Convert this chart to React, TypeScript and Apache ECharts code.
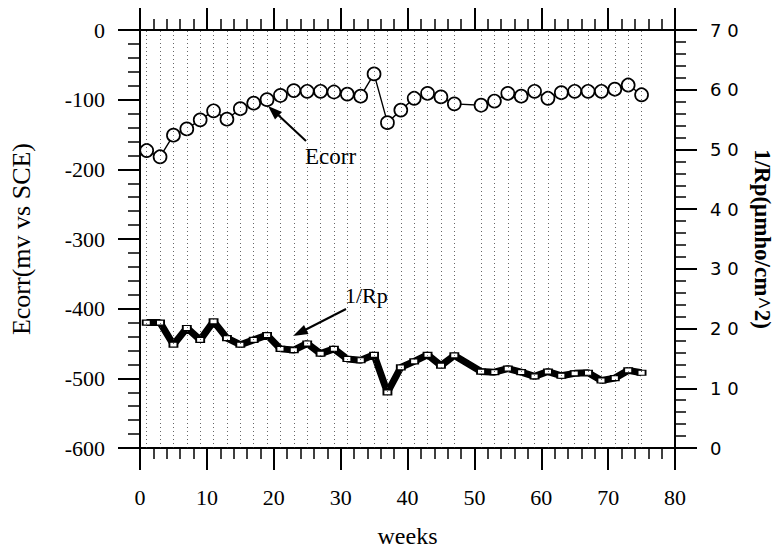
import React, { useEffect, useRef } from "react";
import * as echarts from "echarts";

const weeks = [1, 3, 5, 7, 9, 11, 13, 15, 17, 19, 21, 23, 25, 27, 29, 31, 33, 35, 37, 39, 41, 43, 45, 47, 51, 53, 55, 57, 59, 61, 63, 65, 67, 69, 71, 73, 75];
const ecorr = [-173, -182, -151, -142, -129, -116, -128, -113, -105, -100, -94, -87, -88, -88, -89, -92, -95, -63, -133, -115, -98, -91, -96, -106, -108, -102, -91, -95, -88, -98, -90, -88, -88, -88, -85, -79, -93];
const invRp = [21.0, 21.0, 17.3, 20.1, 18.1, 21.2, 18.4, 17.3, 18.1, 18.9, 16.6, 16.4, 17.5, 15.8, 16.6, 14.9, 14.7, 15.6, 9.3, 13.5, 14.5, 15.6, 13.8, 15.5, 12.8, 12.7, 13.3, 12.7, 12.0, 12.8, 12.1, 12.5, 12.6, 11.3, 11.7, 13.0, 12.6];

const xTicks = { min: 0, max: 80, interval: 10 };
const leftTicks = { min: -600, max: 0, interval: 100 };
const rightTicks = { min: 0, max: 70, interval: 10 };

const serif = "Liberation Serif";

export default function App() {
  const ref = useRef<HTMLDivElement>(null);
  useEffect(() => {
    document.body.style.margin = "0";
    document.body.style.overflow = "hidden";
    if (!ref.current) return;
    const chart = echarts.init(ref.current, null, { renderer: "svg" });
    const axisLine = { show: true, onZero: false, lineStyle: { color: "#000", width: 2 } };
    chart.setOption({
      animation: false,
      backgroundColor: "#fff",
      grid: { left: 140, right: 103, top: 30, bottom: 102, containLabel: false, outerBoundsMode: "none" },
      xAxis: [
        {
          type: "value",
          position: "bottom",
          ...xTicks,
          axisLine,
          axisTick: { show: true, inside: false, length: 22, lineStyle: { color: "#000", width: 2 } },
          minorTick: { show: true, splitNumber: 5, length: 11, lineStyle: { color: "#000", width: 1.5 } },
          splitLine: { show: false },
          axisLabel: { margin: 38, fontFamily: serif, fontSize: 22, color: "#000" },
          name: "weeks",
          nameLocation: "middle",
          nameGap: 76,
          nameTextStyle: { fontFamily: serif, fontSize: 24, color: "#000" },
        },
        {
          type: "value",
          position: "top",
          ...xTicks,
          axisLine,
          axisTick: { show: true, inside: false, length: 22, lineStyle: { color: "#000", width: 2 } },
          minorTick: { show: true, splitNumber: 5, length: 11, lineStyle: { color: "#000", width: 1.5 } },
          splitLine: { show: false },
          axisLabel: { show: false },
        },
      ],
      yAxis: [
        {
          type: "value",
          position: "left",
          ...leftTicks,
          axisLine,
          axisTick: { show: true, inside: false, length: 22, lineStyle: { color: "#000", width: 2 } },
          minorTick: { show: true, splitNumber: 5, length: 12, lineStyle: { color: "#000", width: 1.5 } },
          splitLine: { show: false },
          axisLabel: { margin: 35, fontFamily: serif, fontSize: 22, color: "#000" },
          name: "Ecorr(mv vs SCE)",
          nameLocation: "middle",
          nameGap: 106,
          nameTextStyle: { fontFamily: serif, fontSize: 26, color: "#000" },
        },
        {
          type: "value",
          position: "right",
          ...rightTicks,
          axisLine,
          axisTick: { show: true, inside: false, length: 22, lineStyle: { color: "#000", width: 2 } },
          minorTick: { show: true, splitNumber: 5, length: 11, lineStyle: { color: "#000", width: 1.5 } },
          splitLine: { show: false },
          axisLabel: {
            margin: 35,
            fontFamily: "DejaVu Sans",
            fontSize: 18,
            color: "#000",
            formatter: (v: number) => String(v).split("").join(" "),
          },
          name: "1/Rp(μmho/cm^2)",
          nameLocation: "middle",
          nameRotate: -90,
          nameGap: 76,
          nameTextStyle: { fontFamily: serif, fontSize: 23, color: "#000", fontWeight: "bold" },
        },
      ],
      series: [
        {
          name: "grid",
          type: "line",
          xAxisIndex: 0,
          yAxisIndex: 0,
          data: [],
          silent: true,
          markLine: {
            silent: true,
            symbol: "none",
            label: { show: false },
            lineStyle: { type: [1, 3], color: "#333", width: 1, opacity: 0.75 },
            data: weeks.map((w) => ({ xAxis: w })),
          },
          z: 0,
        },
        {
          name: "Ecorr",
          type: "line",
          xAxisIndex: 0,
          yAxisIndex: 0,
          data: weeks.map((w, i) => [w, ecorr[i]]),
          symbol: "circle",
          symbolSize: 13,
          showAllSymbol: true,
          lineStyle: { color: "#000", width: 1.4 },
          itemStyle: { color: "#fff", borderColor: "#000", borderWidth: 1.7 },
          z: 3,
        },
        {
          name: "1/Rp",
          type: "line",
          xAxisIndex: 0,
          yAxisIndex: 1,
          data: weeks.map((w, i) => [w, invRp[i]]),
          symbol: "rect",
          symbolSize: [8, 5],
          showAllSymbol: true,
          lineStyle: { color: "#000", width: 7 },
          itemStyle: { color: "#fff", borderColor: "#000", borderWidth: 1.5 },
          z: 3,
        },
      ],
      graphic: [
        { type: "line", shape: { x1: 306, y1: 141, x2: 276, y2: 113 }, style: { stroke: "#000", lineWidth: 2 } },
        { type: "polygon", shape: { points: [[268, 106], [282, 112], [275, 119.5]] }, style: { fill: "#000" } },
        { type: "text", left: 305, top: 145, style: { text: "Ecorr", font: "23px 'Liberation Serif'", fill: "#000" } },
        { type: "line", shape: { x1: 346, y1: 309, x2: 303, y2: 331 }, style: { stroke: "#000", lineWidth: 2 } },
        { type: "polygon", shape: { points: [[293, 336], [308.5, 334], [304, 325]] }, style: { fill: "#000" } },
        { type: "text", left: 345, top: 284, style: { text: "1/Rp", font: "22px 'Liberation Serif'", fill: "#000" } },
      ],
    });
    return () => chart.dispose();
  }, []);
  return <div ref={ref} style={{ width: 778, height: 550 }} />;
}
